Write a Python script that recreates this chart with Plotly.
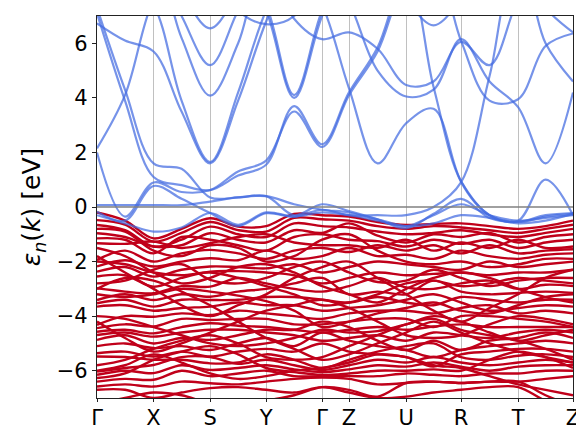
import plotly.graph_objects as go

# k-path sample positions (high-symmetry points and segment midpoints)
k_path = [0, 0.5, 1.01, 1.51, 2.02, 2.52, 3.02, 3.52, 4.02, 4.5, 5.01, 5.52, 6.01, 6.5, 7.01, 7.52, 8.01, 8.5]
hs_pos = [0, 1.01, 2.02, 3.02, 4.02, 4.5, 5.52, 6.5, 7.52, 8.5]
hs_labels = ["Γ", "X", "S", "Y", "Γ", "Z", "U", "R", "T", "Z"]

# conduction bands (eV) at k_path
bl01 = [6.73, 6.1, 5.7, 3.5, 1.6, 3.9, 6.8, 9, 9, 9, 9, 9, 9, 9, 9, 9, 9, 9]
bl02 = [9, 8.5, 7.4, 3.9, 1.65, 4.2, 7.2, 9, 9, 9, 9, 9, 9, 9, 9, 9, 9, 9]
bl03 = [9, 9, 9, 6.2, 4.08, 6.0, 9, 9, 9, 9, 9, 9, 9, 9, 9, 9, 9, 9]
bl04 = [9, 9, 9, 7.0, 5.2, 7.2, 9, 9, 9, 9, 9, 9, 9, 9, 9, 9, 9, 9]
bl05 = [9, 9, 9, 7.8, 6.55, 7.8, 9, 9, 9, 9, 9, 9, 9, 9, 9, 9, 9, 9]
bl06 = [2.15, 4.1, 7.6, 9, 9, 9, 9, 9, 9, 9, 9, 9, 9, 9, 9, 9, 9, 9]
bl07 = [7.3, 4.3, 1.6, 1.4, 0.35, 0.35, 0.4, -0.3, 0.1, -0.15, -0.45, -0.78, -0.25, 0.3, -0.4, -0.54, -0.3, -0.22]
bl08 = [7.1, 3.9, 1.1, 0.8, 0.62, 1.15, 1.55, 3.7, 2.3, 4.2, 5.85, 8.5, 9, 9, 9, 9, 9, 9]
bl09 = [2.0, -0.35, 0.9, 0.55, 0.62, 1.3, 1.7, 3.5, 2.2, 4.1, 5.7, 8.3, 9, 9, 9, 9, 9, 9]
bl10 = [-0.17, -0.5, 0.77, 0.3, -0.22, -0.7, -0.23, -0.35, -0.1, -0.3, -0.3, -0.3, 0.0, 0.9, 4.8, 9, 9, 9]
bl11 = [0.07, 0.07, 0.07, 0.07, 0.2, 0.35, 0.4, 0.1, -0.1, -0.2, -0.45, -0.7, -0.6, -0.3, -0.4, -0.6, -0.5, -0.25]
bl12 = [-0.3, -0.6, -0.9, -0.75, -0.22, -0.65, -0.2, -0.35, -0.2, -0.3, -0.5, -0.7, -0.3, 0.1, -0.3, -0.5, -0.4, -0.3]
bl13 = [9, 9, 9, 9, 9, 9, 7.2, 4.0, 7.0, 9, 9, 9, 9, 9, 9, 9, 9, 9]
bl14 = [9, 9, 9, 9, 9, 9, 7.4, 4.1, 7.2, 9, 9, 9, 9, 9, 9, 9, 9, 9]
bl15 = [9, 9, 9, 9, 9, 7.2, 6.7, 7.0, 9, 9, 9, 9, 9, 9, 9, 9, 9, 9]
bl16 = [9, 9, 9, 9, 9, 9, 9, 6.9, 6.15, 6.4, 5.8, 4.47, 4.6, 6.05, 5.2, 7.6, 9, 9]
bl17 = [9, 9, 9, 9, 9, 9, 9, 9, 9, 7.5, 5.0, 4.05, 4.3, 6.15, 4.6, 3.66, 1.6, 4.2]
bl18 = [9, 9, 9, 9, 9, 9, 9, 9, 7.4, 4.35, 1.6, 3.07, 3.6, 0.95, -0.3, -0.5, 1.0, -0.3]
bl19 = [9, 9, 9, 9, 9, 9, 9, 9, 9, 9, 9, 8.6, 4.4, 0.93, -0.3, -0.55, -0.35, -0.25]
bl20 = [9, 9, 9, 9, 9, 9, 9, 9, 9, 9, 9, 7.6, 6.66, 7.6, 9, 9, 9, 9]
bl21 = [9, 9, 9, 9, 9, 9, 9, 9, 9, 9, 9, 9, 9, 6.1, 3.9, 3.95, 5.9, 6.36]
bl22 = [9, 9, 9, 9, 9, 9, 9, 9, 9, 9, 9, 9, 9, 9, 9, 9, 6.0, 4.6]
bl23 = [9, 9, 9, 9, 9, 9, 9, 9, 9, 9, 9, 9, 9, 9, 9, 9, 7.3, 6.4]

# valence bands (eV) at k_path
r01 = [-0.20, -0.50, -1.15, -0.80, -0.41, -0.72, -0.70, -0.25, -0.30, -0.35, -0.55, -0.66, -0.62, -0.60, -0.70, -0.80, -0.70, -0.50]
r02 = [-0.48, -0.65, -1.27, -0.95, -0.55, -0.85, -0.90, -0.40, -0.45, -0.50, -0.70, -0.80, -0.70, -0.75, -0.85, -0.95, -0.80, -0.65]
r03 = [-0.66, -0.85, -1.45, -1.20, -0.72, -1.00, -1.10, -0.60, -0.70, -0.75, -0.90, -1.00, -0.95, -0.85, -1.00, -1.10, -0.95, -0.80]
r04 = [-0.96, -1.10, -1.45, -1.40, -0.96, -1.20, -1.30, -0.85, -0.95, -0.60, -1.05, -1.30, -1.00, -1.10, -0.95, -1.30, -1.10, -1.00]
r05 = [-1.15, -1.20, -1.70, -1.10, -1.20, -1.40, -1.60, -1.10, -1.00, -1.20, -1.25, -1.45, -1.20, -1.35, -1.20, -1.50, -1.30, -1.20]
r06 = [-1.33, -1.35, -1.27, -1.50, -1.33, -1.10, -1.00, -1.30, -1.40, -1.40, -1.50, -1.20, -1.60, -1.30, -1.50, -1.20, -1.50, -1.45]
r07 = [-1.94, -1.60, -2.00, -1.70, -1.57, -1.70, -1.90, -1.60, -1.50, -1.65, -1.40, -1.60, -1.40, -1.70, -1.40, -1.70, -1.60, -1.55]
r08 = [-2.18, -1.95, -2.18, -2.00, -1.88, -1.95, -1.60, -1.90, -1.80, -1.50, -1.80, -1.75, -1.90, -1.60, -1.80, -1.90, -1.75, -1.70]
r09 = [-2.37, -2.20, -2.55, -2.30, -2.18, -2.20, -2.25, -2.10, -2.40, -2.20, -2.00, -2.10, -2.20, -2.30, -2.00, -2.20, -2.10, -2.00]
r10 = [-2.55, -2.50, -2.92, -2.60, -2.37, -2.35, -2.40, -2.50, -2.80, -2.60, -2.40, -2.50, -2.45, -2.40, -2.50, -2.40, -2.40, -2.30]
r11 = [-2.80, -2.70, -2.30, -2.10, -2.67, -2.80, -2.60, -2.20, -2.00, -2.40, -2.75, -2.70, -2.30, -2.60, -2.90, -2.70, -2.60, -2.60]
r12 = [-2.98, -3.10, -3.16, -2.90, -2.92, -2.60, -2.80, -3.00, -3.10, -2.90, -2.60, -2.95, -3.00, -2.80, -2.70, -3.00, -2.85, -2.90]
r13 = [-3.41, -3.20, -3.41, -3.20, -3.29, -3.10, -3.00, -2.80, -2.60, -3.20, -3.10, -3.20, -2.70, -3.10, -3.20, -3.15, -3.10, -3.15]
r14 = [-3.53, -3.40, -3.65, -3.40, -3.41, -3.40, -3.30, -3.30, -3.40, -3.50, -3.30, -3.50, -3.60, -3.30, -3.40, -3.50, -3.40, -3.40]
r15 = [-3.65, -3.60, -3.80, -3.70, -3.65, -3.50, -3.60, -3.60, -3.80, -3.70, -3.60, -3.40, -3.20, -3.50, -3.80, -3.70, -3.60, -3.65]
r16 = [-4.32, -4.00, -4.02, -3.90, -3.96, -3.80, -3.90, -4.00, -4.10, -3.90, -3.80, -3.80, -3.90, -3.70, -3.60, -3.90, -3.80, -3.90]
r17 = [-4.44, -4.30, -4.38, -4.10, -4.14, -4.10, -4.10, -4.30, -4.30, -4.20, -4.10, -4.10, -4.40, -4.00, -4.00, -4.10, -4.20, -4.40]
r18 = [-4.57, -4.50, -4.63, -4.40, -4.26, -4.35, -4.40, -4.50, -4.60, -4.50, -4.40, -4.50, -4.38, -4.30, -4.40, -4.40, -4.40, -4.40]
r19 = [-4.69, -4.60, -4.75, -4.60, -4.50, -4.50, -4.60, -4.70, -4.90, -4.80, -4.70, -4.90, -4.60, -4.70, -4.80, -4.60, -4.50, -4.60]
r20 = [-4.87, -4.70, -5.00, -4.80, -4.87, -4.70, -4.50, -4.50, -4.20, -4.40, -4.90, -5.24, -4.90, -5.24, -4.90, -4.80, -4.60, -4.80]
r21 = [-5.10, -5.00, -5.17, -5.10, -5.24, -5.00, -4.80, -5.10, -4.60, -4.90, -5.10, -5.24, -5.50, -5.24, -5.10, -5.00, -4.90, -5.00]
r22 = [-5.36, -5.30, -5.48, -5.30, -5.48, -5.30, -5.20, -5.30, -5.00, -5.30, -5.40, -5.50, -5.85, -5.40, -5.30, -5.20, -5.20, -5.30]
r23 = [-5.48, -5.50, -5.60, -5.60, -5.73, -5.70, -5.40, -5.60, -5.90, -5.60, -5.30, -5.10, -5.00, -5.50, -5.60, -5.45, -5.40, -5.50]
r24 = [-6.03, -5.90, -5.79, -5.50, -5.50, -5.75, -5.60, -5.80, -5.97, -5.80, -5.60, -5.70, -5.50, -5.70, -5.80, -5.70, -5.60, -5.70]
r25 = [-6.15, -6.00, -6.09, -5.80, -5.97, -5.90, -5.80, -5.95, -6.05, -5.95, -5.80, -5.85, -5.70, -5.85, -6.00, -5.85, -5.80, -5.80]
r26 = [-6.27, -6.10, -5.60, -5.30, -5.10, -5.40, -5.90, -6.05, -6.15, -6.10, -6.00, -6.00, -5.95, -6.00, -5.60, -5.30, -5.50, -5.90]
r27 = [-6.40, -6.30, -6.33, -6.00, -6.20, -6.10, -6.00, -6.20, -6.20, -6.20, -6.20, -6.10, -6.15, -6.20, -6.10, -6.10, -6.00, -6.00]
r28 = [-6.58, -6.50, -6.58, -6.40, -6.46, -6.50, -6.40, -6.30, -6.25, -6.30, -6.50, -6.45, -6.40, -6.45, -6.40, -6.40, -6.30, -6.20]
r29 = [-6.70, -6.70, -7.00, -6.80, -6.64, -6.60, -6.70, -6.80, -6.60, -6.80, -7.00, -6.95, -6.80, -6.70, -6.60, -6.60, -7.10, -7.40]
r30 = [-1.80, -2.40, -3.00, -3.60, -4.00, -3.60, -3.20, -2.60, -2.20, -2.00, -2.60, -3.20, -3.80, -4.20, -3.70, -3.20, -2.60, -2.30]
r31 = [-3.00, -2.60, -2.70, -3.10, -3.60, -4.20, -4.80, -5.20, -5.60, -5.40, -5.00, -4.60, -4.20, -4.60, -5.00, -5.30, -5.50, -5.70]
r32 = [-4.20, -4.80, -5.30, -5.00, -4.60, -4.20, -3.80, -3.60, -3.40, -3.70, -4.20, -4.70, -4.80, -4.70, -4.30, -4.00, -4.10, -4.30]
r33 = [-1.50, -1.80, -2.40, -2.80, -2.60, -2.20, -2.10, -2.40, -2.90, -3.20, -3.50, -3.00, -2.60, -2.40, -2.60, -3.00, -3.30, -3.50]
r34 = [-5.80, -5.60, -5.20, -4.90, -4.70, -5.00, -5.50, -5.60, -5.50, -5.10, -4.70, -4.30, -4.10, -4.50, -4.70, -4.90, -5.20, -5.60]
r35 = [-0.80, -0.90, -1.60, -1.80, -1.40, -1.50, -2.00, -1.80, -1.20, -1.00, -1.60, -2.00, -2.10, -2.00, -2.20, -2.10, -1.90, -1.90]
r36 = [-7.20, -7.00, -6.80, -6.90, -7.20, -7.30, -7.10, -6.90, -6.60, -6.70, -6.95, -6.45, -6.40, -6.45, -6.40, -6.40, -6.90, -7.30]
r37 = [-3.20, -3.30, -3.20, -3.00, -3.10, -3.25, -3.45, -3.80, -4.40, -4.20, -3.90, -3.70, -3.50, -3.80, -3.90, -3.60, -3.30, -3.20]
r38 = [-2.00, -2.10, -2.40, -2.50, -2.40, -2.60, -2.90, -3.20, -3.60, -3.50, -3.20, -2.80, -2.70, -2.90, -2.80, -2.60, -2.70, -2.80]
r39 = [-4.00, -4.10, -4.40, -4.70, -5.00, -5.10, -5.00, -4.80, -4.50, -4.60, -4.55, -4.30, -4.00, -4.20, -4.60, -4.90, -4.70, -4.50]
r40 = [-6.00, -5.80, -5.40, -5.70, -6.10, -6.30, -6.20, -6.00, -5.90, -5.70, -5.40, -5.50, -5.80, -5.90, -6.20, -6.50, -6.70, -6.90]

conduction = [bl01, bl02, bl03, bl04, bl05, bl06, bl07, bl08, bl09, bl10, bl11, bl12,
              bl13, bl14, bl15, bl16, bl17, bl18, bl19, bl20, bl21, bl22, bl23]
valence = [r01, r02, r03, r04, r05, r06, r07, r08, r09, r10, r11, r12, r13, r14, r15,
           r16, r17, r18, r19, r20, r21, r22, r23, r24, r25, r26, r27, r28, r29, r30,
           r31, r32, r33, r34, r35, r36, r37, r38, r39, r40]

fig = go.Figure()
for band in valence:
    fig.add_trace(go.Scatter(x=k_path, y=band, mode="lines",
                             line=dict(color="#C0001A", width=2.4, shape="spline", smoothing=1.0),
                             hoverinfo="skip", showlegend=False))
for band in conduction:
    fig.add_trace(go.Scatter(x=k_path, y=band, mode="lines",
                             line=dict(color="rgba(65,105,225,0.72)", width=2.2, shape="spline", smoothing=1.0),
                             hoverinfo="skip", showlegend=False))

fig.add_shape(type="line", xref="x", yref="y", x0=0, x1=8.5, y0=0, y1=0,
              line=dict(color="#808080", width=1.6), layer="above")

# the page body adds an 8 px offset; size the figure so the plot lands where the reference has it
fig.update_layout(
    width=576, height=423,
    margin=dict(l=89, r=11, t=8, b=33),
    paper_bgcolor="white", plot_bgcolor="white",
    font=dict(family="DejaVu Sans", color="black"),
    showlegend=False,
)
fig.update_xaxes(range=[0, 8.5], tickmode="array", tickvals=hs_pos, ticktext=hs_labels,
                 automargin=False,
                 showgrid=True, gridcolor="#c0c0c0", gridwidth=1, zeroline=False,
                 showline=True, linecolor="#222222", linewidth=1.2, mirror=True,
                 ticks="outside", ticklen=3, tickcolor="#222222", ticklabelstandoff=-2,
                 tickfont=dict(size=21, family="DejaVu Sans"))
fig.update_yaxes(range=[-7, 7], tickmode="array", tickvals=[-6, -4, -2, 0, 2, 4, 6],
                 automargin=False,
                 showgrid=False, zeroline=False,
                 showline=True, linecolor="#222222", linewidth=1.2, mirror=True,
                 ticks="outside", ticklen=4, tickcolor="#222222",
                 tickfont=dict(size=21, family="DejaVu Sans"),
                 title=dict(text="<i>ε</i><sub><i>n</i></sub>(<i>k</i>) [eV]",
                            font=dict(size=25, family="DejaVu Sans"), standoff=8))

fig.write_html("out.html")
